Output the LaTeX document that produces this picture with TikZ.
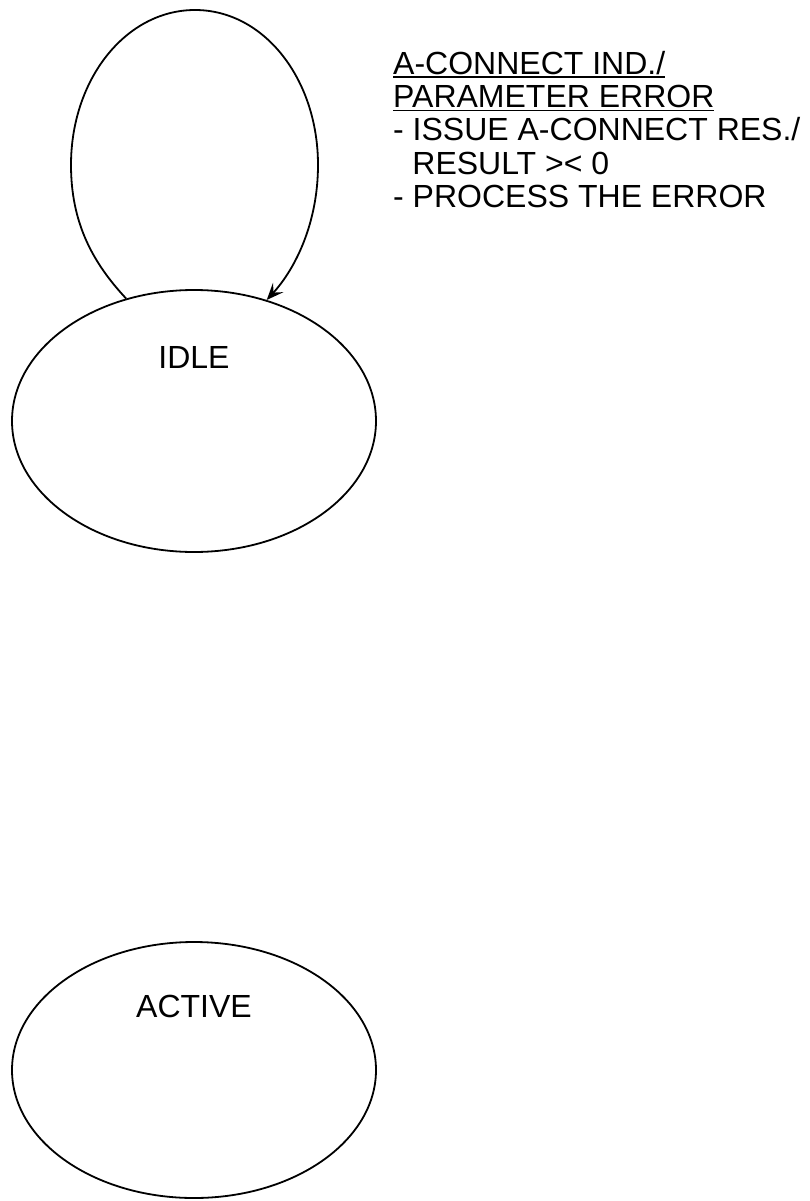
\documentclass[tikz,border=0pt]{standalone}
\usepackage{fontspec}
\setmainfont{Liberation Sans}
\usetikzlibrary{arrows.meta,shapes.geometric}
% underline drawn as a rule of fixed thickness below the baseline
\newcommand\ulbar[1]{\setbox0\hbox{#1}\rlap{\rule[-3.8pt]{\wd0}{1.9pt}}\box0}
\begin{document}
\begin{tikzpicture}[x=1pt,y=-1pt,
  state/.style={draw,line width=1.8pt,ellipse,minimum width=364pt,minimum height=262pt,inner sep=0pt},
  txt/.style={font=\fontsize{32}{33.3}\selectfont,inner sep=0pt},
  trans/.style={line width=1.8pt,-{Stealth[length=17pt,width=14pt,inset=7pt]}}]
\useasboundingbox (0,0) rectangle (809,1201);

% states
\node[state] (idle) at (194,421) {};
\node[txt] (idlelbl) at (194,357) {IDLE};
\node[state,minimum height=256pt] (active) at (194,1070) {};
\node[txt] (activelbl) at (194,1006) {ACTIVE};

% self transition on IDLE
\coordinate (loopl) at (71,165);
\coordinate (loopt) at (195,10);
\coordinate (loopr) at (318,165);
\draw[trans] (idle.119) .. controls (92,262) and (71,222) .. (loopl)
  .. controls (71,79) and (126,10) .. (loopt)
  .. controls (264,10) and (318,79) .. (loopr)
  .. controls (318,222) and (296,268) .. (idle.59);

% transition label
\node[txt,anchor=north west,align=left] (cond) at (393,51)
  {\ulbar{A-CONNECT IND./}\\
   \ulbar{PARAMETER ERROR}\\
   - ISSUE A-CONNECT RES./\\
   \hspace*{0.6em}RESULT >< 0\\
   - PROCESS THE ERROR};
\end{tikzpicture}
\end{document}
